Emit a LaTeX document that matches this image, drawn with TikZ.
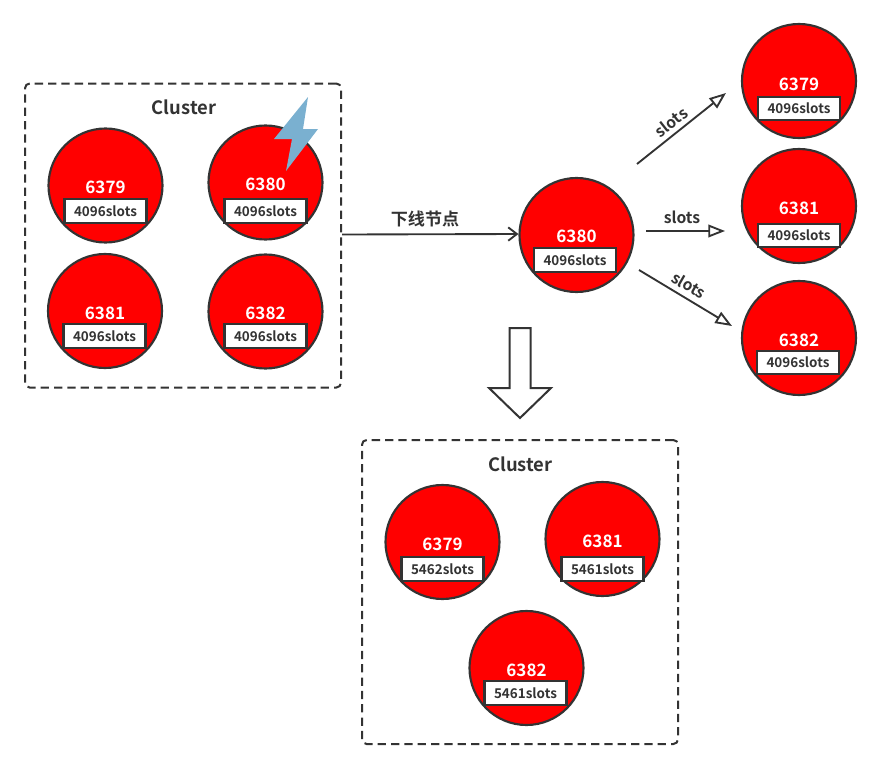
\documentclass[tikz,border=0pt]{standalone}
\usepackage{fontspec}
\setmainfont{Noto Sans CJK SC}[BoldFont={Noto Sans CJK SC Bold}]
\usetikzlibrary{arrows.meta}
\definecolor{ink}{HTML}{333333}
\definecolor{bolt}{HTML}{7AB0D0}
\tikzset{
  px/.style={x=0.75pt,y=-0.75pt},
  redisnode/.style={circle,draw=ink,line width=1.6pt,fill=red,minimum size=85.5pt,inner sep=0pt},
  porttext/.style={text=white,font=\bfseries\fontsize{12.8}{14}\selectfont,inner sep=0pt},
  slotbox/.style={draw=ink,line width=1.6pt,fill=white,text=ink,minimum width=61.5pt,minimum height=17.5pt,inner sep=0pt,font=\bfseries\fontsize{10.1}{11}\selectfont},
  clusterbox/.style={draw=ink,line width=1.5pt,dash pattern=on 6.2pt off 3.8pt,rounded corners=3.5pt,minimum width=237pt,minimum height=228pt,inner sep=0pt},
  titletext/.style={text=ink,font=\bfseries\fontsize{13.8}{15}\selectfont,inner sep=0pt},
  flowlabel/.style={text=ink,font=\bfseries\fontsize{11.8}{13}\selectfont,inner sep=0pt},
  cjklabel/.style={text=ink,font=\bfseries\fontsize{12.8}{14}\selectfont,inner sep=0pt},
  flow/.style={draw=ink,line width=1.4pt,-{Triangle[open,length=12.5pt,width=9.5pt,fill=white]}},
  mainflow/.style={draw=ink,line width=1.4pt,-{Straight Barb[length=6.5pt,width=10pt]}},
}
\newcommand{\redisat}[8]{%
  \node[redisnode] (#1) at (#2,#3) {};
  \node[porttext] (#1p) at (#2,#4) {#5};
  \node[slotbox] (#1s) at (#6,#7) {#8};
}
\begin{document}
\begin{tikzpicture}[px]
\useasboundingbox[fill=white] (0,0) rectangle (883,768);
% clusters
\node[clusterbox] (c1) at (183,235.5) {};
\node[clusterbox] (c2) at (520,592) {};
\node[titletext] (t1) at (184,107) {Cluster};
\node[titletext] (t2) at (520.5,464) {Cluster};
% first cluster
\redisat{a}{105.5}{185.5}{187.5}{6379}{105.5}{211}{4096slots}
\redisat{b}{265.5}{182.5}{184.5}{6380}{265.5}{211}{4096slots}
\redisat{d}{105}{311}{313}{6381}{104.5}{336}{4096slots}
\redisat{e}{265.5}{311.5}{313.5}{6382}{265.5}{336}{4096slots}
% lightning
\fill[bolt] (308,97) -- (274,139) -- (292,139) -- (286,171) -- (318,129) -- (303,129) -- cycle;
% centre node
\redisat{m}{576.5}{235}{236.5}{6380}{575}{260}{4096slots}
% right column
\redisat{r}{799}{81}{84.5}{6379}{799}{108.5}{4096slots}
\redisat{s}{799}{206}{208.5}{6381}{799}{235.5}{4096slots}
\redisat{u}{799}{338}{340.5}{6382}{798}{362.5}{4096slots}
% result cluster
\redisat{x}{442.5}{542}{544.5}{6379}{442.5}{569}{5462slots}
\redisat{y}{602.5}{539}{541.5}{6381}{602.5}{569}{5461slots}
\redisat{z}{526.5}{668}{670.5}{6382}{525.5}{693}{5461slots}
% connectors
\coordinate (ms1) at (637,164);
\coordinate (me1) at (726,93);
\coordinate (ms2) at (646,231);
\coordinate (me2) at (725,231);
\coordinate (ms3) at (639,270);
\coordinate (me3) at (732,326);
\draw[mainflow] ([yshift=0.75pt]c1.east) -- ([yshift=0.75pt]m.west);
\node[cjklabel] (l0) at (425,219) {下线节点};
\draw[flow] (ms1) -- (me1);
\draw[flow] (ms2) -- (me2);
\draw[flow] (ms3) -- (me3);
\node[flowlabel,rotate=38] (l1) at (671,122) {slots};
\node[flowlabel] (l2) at (682,217.5) {slots};
\node[flowlabel,rotate=-30] (l3) at (689,285) {slots};
% big hollow arrow
\draw[ink,line width=1.5pt,fill=white,line join=miter] (509.5,328) -- (530.5,328) -- (530.5,388) -- (551,388) -- (520,418) -- (489,388) -- (509.5,388) -- cycle;
\end{tikzpicture}
\end{document}
